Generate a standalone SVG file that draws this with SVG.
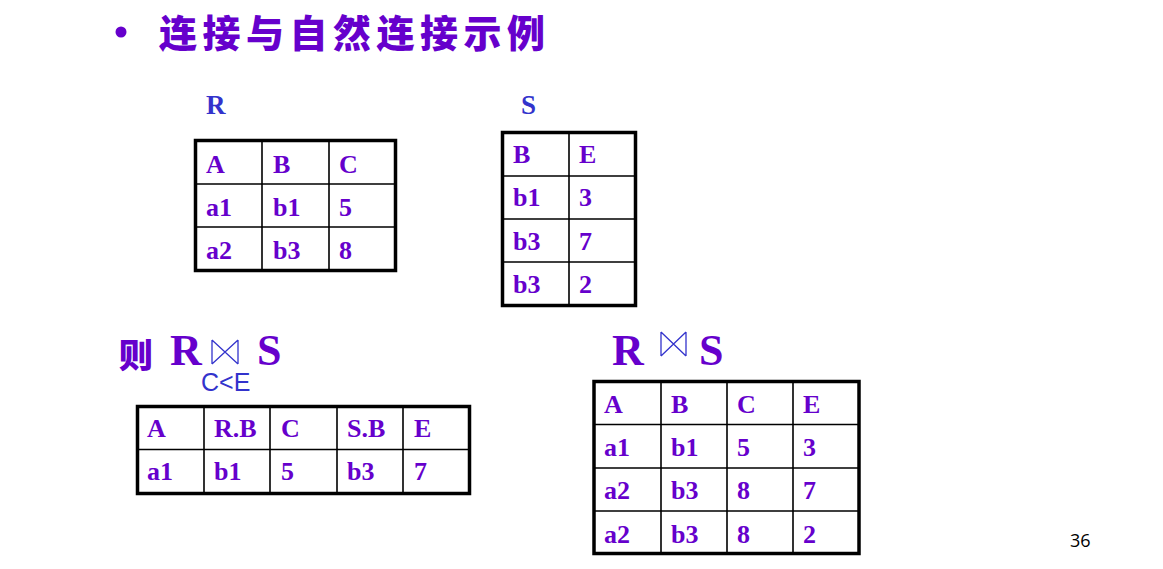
<svg xmlns="http://www.w3.org/2000/svg" width="1163" height="569" viewBox="0 0 1163 569">
<style>
.t{font-family:"Liberation Serif","Times New Roman",serif;font-weight:bold;font-size:26px;fill:#6600cc}
.big{font-family:"Liberation Serif","Times New Roman",serif;font-weight:bold;font-size:44px;fill:#6600cc}
.lbl{font-family:"Liberation Serif","Times New Roman",serif;font-weight:bold;font-size:27px;fill:#3333cc}
.box{fill:#fff;stroke:#000;stroke-width:3.5}
.grid{stroke:#000;stroke-width:1.6;fill:none}
.bow{stroke:#3333cc;stroke-width:1.3;fill:none}
</style>
<rect width="1163" height="569" fill="#fff"/>
<g id="title">
<circle cx="121" cy="32" r="5.5" fill="#6600cc"/>
<text x="159" y="47" style="font-family:'Noto Sans CJK SC',sans-serif;font-weight:900;font-size:38px;fill:#6600cc;letter-spacing:5.5px">连接与自然连接示例</text>
</g>
<g id="R">
<text class="lbl" x="206" y="114">R</text>
<rect class="box" x="195.5" y="140.5" width="200" height="130"/>
<path class="grid" d="M262 140v130M329 140v130M195 184h200M195 227h200"/>
<text class="t" x="206" y="173">A</text><text class="t" x="273" y="173">B</text><text class="t" x="339" y="173">C</text>
<text class="t" x="206" y="216">a1</text><text class="t" x="273" y="216">b1</text><text class="t" x="339" y="216">5</text>
<text class="t" x="206" y="259">a2</text><text class="t" x="273" y="259">b3</text><text class="t" x="339" y="259">8</text>
</g>
<g id="S">
<text class="lbl" x="521" y="114">S</text>
<rect class="box" x="502.5" y="132.5" width="133" height="173"/>
<path class="grid" d="M569 132v173M502 176h133M502 219h133M502 262h133"/>
<text class="t" x="513" y="163">B</text><text class="t" x="579" y="163">E</text>
<text class="t" x="513" y="206">b1</text><text class="t" x="579" y="206">3</text>
<text class="t" x="513" y="250">b3</text><text class="t" x="579" y="250">7</text>
<text class="t" x="513" y="293">b3</text><text class="t" x="579" y="293">2</text>
</g>
<g id="theta-join">
<text x="119" y="368" style="font-family:'Noto Sans CJK SC',sans-serif;font-weight:900;font-size:34px;fill:#6600cc">则</text>
<text class="big" x="170" y="365">R</text>
<path class="bow" d="M212 340v24M238 340v24M212 340L238 364M212 364L238 340"/>
<text class="big" x="257" y="365">S</text>
<text x="201" y="391" style="font-family:'Liberation Sans',Arial,sans-serif;font-size:25px;fill:#3333cc">C&lt;E</text>
<rect class="box" x="137.5" y="406.5" width="332" height="87"/>
<path class="grid" d="M204 406v87M270 406v87M337 406v87M403 406v87M137 449.5h332"/>
<text class="t" x="147" y="437">A</text><text class="t" x="214" y="437">R.B</text><text class="t" x="281" y="437">C</text><text class="t" x="347" y="437">S.B</text><text class="t" x="414" y="437">E</text>
<text class="t" x="147" y="480">a1</text><text class="t" x="214" y="480">b1</text><text class="t" x="281" y="480">5</text><text class="t" x="347" y="480">b3</text><text class="t" x="414" y="480">7</text>
</g>
<g id="natural-join">
<text class="big" x="612" y="365">R</text>
<path class="bow" d="M661 332v24M686 332v24M661 332L686 356M661 356L686 332"/>
<text class="big" x="699" y="365">S</text>
<rect class="box" x="594" y="381.5" width="265" height="172"/>
<path class="grid" d="M661 381v172M727 381v172M793 381v172M594 424.5h265M594 468h265M594 511h265"/>
<text class="t" x="604" y="413">A</text><text class="t" x="671" y="413">B</text><text class="t" x="737" y="413">C</text><text class="t" x="803" y="413">E</text>
<text class="t" x="604" y="456">a1</text><text class="t" x="671" y="456">b1</text><text class="t" x="737" y="456">5</text><text class="t" x="803" y="456">3</text>
<text class="t" x="604" y="499">a2</text><text class="t" x="671" y="499">b3</text><text class="t" x="737" y="499">8</text><text class="t" x="803" y="499">7</text>
<text class="t" x="604" y="543">a2</text><text class="t" x="671" y="543">b3</text><text class="t" x="737" y="543">8</text><text class="t" x="803" y="543">2</text>
</g>
<text id="page" x="1070" y="547" style="font-family:'Open Sans','Liberation Sans',sans-serif;font-size:18px;fill:#000">36</text>
</svg>
